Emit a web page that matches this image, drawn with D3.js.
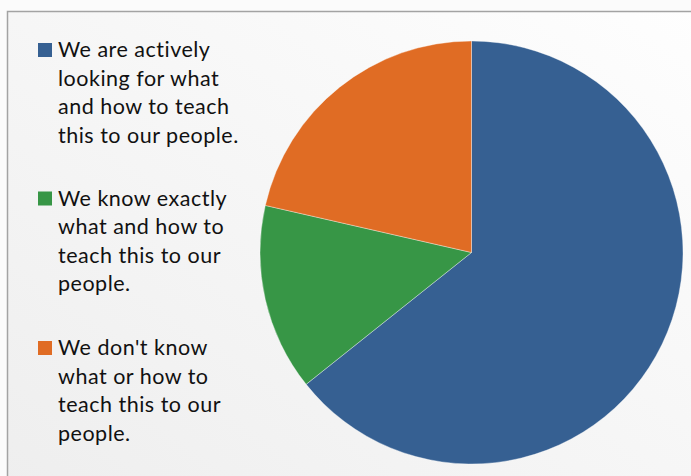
<!DOCTYPE html>
<html>
<head>
<meta charset="utf-8">
<script src="https://cdn.jsdelivr.net/npm/d3@7"></script>
<style>
  html, body { margin: 0; padding: 0; background: #fbfbfb; }
  svg { display: block; }
</style>
</head>
<body>
<div id="chart"></div>
<script>
// data
var labels = [
  "We are actively looking for what and how to teach this to our people.",
  "We know exactly what and how to teach this to our people.",
  "We don't know what or how to teach this to our people."
];
var labelLines = [
  ["We are actively", "looking for what", "and how to teach", "this to our people."],
  ["We know exactly", "what and how to", "teach this to our", "people."],
  ["We don't know", "what or how to", "teach this to our", "people."]
];
var counts = [9, 2, 3];
var colors = ["#366092", "#379646", "#e06c24"];

var width = 691, height = 476;
var center = [471.5, 252.5], radius = 211.5;

var svg = d3.select("#chart").append("svg")
  .attr("width", width)
  .attr("height", height);

var defs = svg.append("defs");
var grad = defs.append("linearGradient")
  .attr("id", "bg")
  .attr("x1", "100%").attr("y1", "0%")
  .attr("x2", "0%").attr("y2", "100%");
grad.append("stop").attr("offset", "0%").attr("stop-color", "#fefefe");
grad.append("stop").attr("offset", "100%").attr("stop-color", "#eeeeee");

// frame
svg.append("rect")
  .attr("x", 7.5).attr("y", 11.5)
  .attr("width", width + 10).attr("height", height + 10)
  .style("fill", "url(#bg)")
  .style("stroke", "#a3a3a3")
  .style("stroke-width", 1.5);

// pie
var pie = d3.pie().sort(null).value(function (d) { return d; });
var arc = d3.arc().innerRadius(0).outerRadius(radius);

var pieG = svg.append("g")
  .attr("transform", "translate(" + center + ")");

pieG.selectAll("path")
  .data(pie(counts))
  .enter()
  .append("path")
  .attr("d", arc)
  .style("fill", function (d, i) { return colors[i]; })
  .style("stroke", "rgba(255,255,255,0.6)")
  .style("stroke-width", 0.6);

// legend
var legendX = 38, textX = 58, lineH = 28.6;
var groupY = [57, 205.5, 355];

var legend = svg.append("g").classed("legend", true);
var items = legend.selectAll(".item")
  .data(labelLines)
  .enter()
  .append("g")
  .classed("item", true)
  .attr("transform", function (d, i) { return "translate(0," + groupY[i] + ")"; });

items.append("rect")
  .attr("x", legendX)
  .attr("y", -14)
  .attr("width", 14)
  .attr("height", 14)
  .style("fill", function (d, i) { return colors[i]; });

items.append("text")
  .style("font-family", "Lato, 'Open Sans', sans-serif")
  .style("font-size", "21.5px")
  .style("letter-spacing", "0.5px")
  .style("fill", "#111")
  .selectAll("tspan")
  .data(function (d) { return d; })
  .enter()
  .append("tspan")
  .attr("x", textX)
  .attr("y", function (d, j) { return j * lineH; })
  .text(function (d) { return d; });
</script>
</body>
</html>
